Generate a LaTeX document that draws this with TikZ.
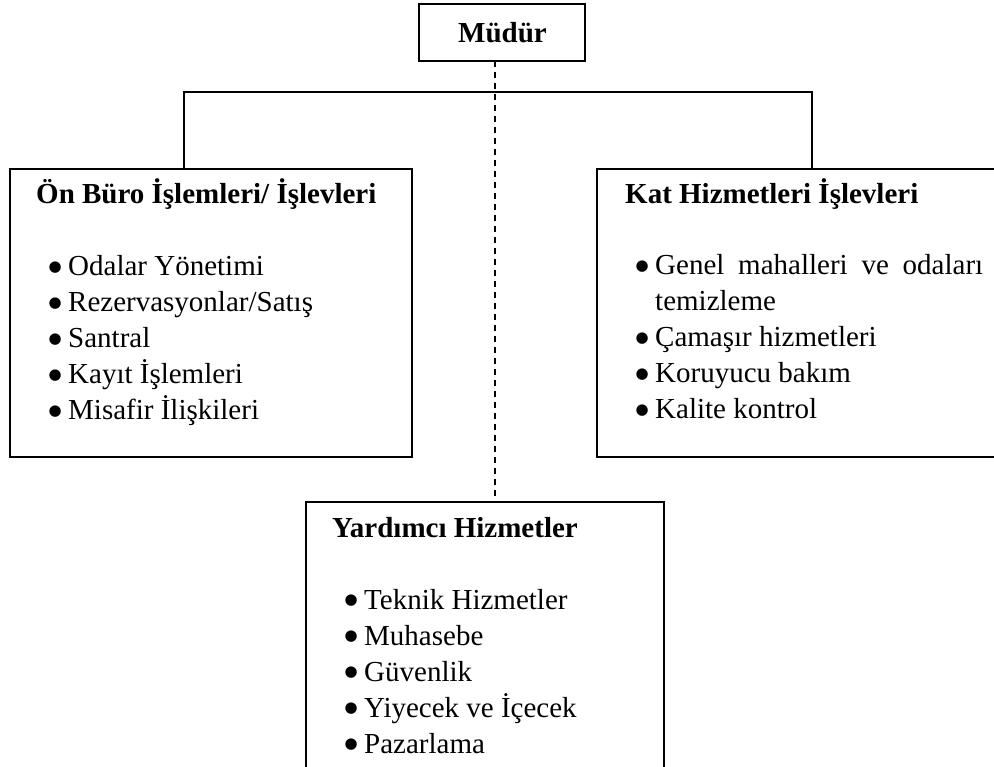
\documentclass[tikz,border=0pt]{standalone}
\usepackage{fontspec}
\setmainfont{Liberation Serif}
\newfontfamily\dotfont{DejaVu Sans}
\usetikzlibrary{shadows}

% round bullet in a fixed slot before the item text
\newcommand{\blt}{\makebox[18pt][l]{\hspace{-1.5pt}\raisebox{4.2pt}{\dotfont\fontsize{15}{18}\selectfont ●}}}

\begin{document}
\begin{tikzpicture}[x=1pt, y=-1pt,
  frame/.style={draw, line width=1.3pt, fill=white, inner sep=0pt, outer sep=0pt,
    anchor=north west,
    drop shadow={shadow xshift=1.4pt, shadow yshift=-1.4pt, fill=black!65, opacity=1}},
  head/.style={anchor=base west, inner sep=0pt, font=\fontsize{29}{36}\selectfont\bfseries},
  entry/.style={anchor=base west, inner sep=0pt, font=\fontsize{29}{36}\selectfont},
  link/.style={line width=1.3pt},
  dotted link/.style={line width=1.3pt, dash pattern=on 6pt off 5pt}]

\fill[white] (0,0) rectangle (994,767);
\useasboundingbox (0,0) rectangle (994,767);

% boxes
\node[frame, minimum width=166pt, minimum height=57pt] (boss) at (419,4) {};
\node[frame, minimum width=402pt, minimum height=288pt] (front) at (10,169) {};
\node[frame, minimum width=420pt, minimum height=288pt] (house) at (597,169) {};
\node[frame, minimum width=358pt, minimum height=280pt] (aux) at (306,502) {};

% connectors
\coordinate (lt) at (184,92);
\coordinate (rt) at (812,92);
\coordinate (dx) at (495,0);
\draw[link] (front.north -| lt) -- (lt) -- (rt) -- (house.north -| rt);
\draw[dotted link] (boss.south -| dx) -- (aux.north -| dx);

% top
\node[head] (bosst) at (458,43) {Müdür};

% front office
\node[head] (fronth) at (36,204) {Ön Büro İşlemleri/ İşlevleri};
\node[entry] (f1) at (50,276) {\blt Odalar Yönetimi};
\node[entry] (f2) at (50,312) {\blt Rezervasyonlar/Satış};
\node[entry] (f3) at (50,348) {\blt Santral};
\node[entry] (f4) at (50,384) {\blt Kayıt İşlemleri};
\node[entry] (f5) at (50,420) {\blt Misafir İlişkileri};

% housekeeping
\node[head] (househ) at (625,204) {Kat Hizmetleri İşlevleri};
\node[entry] (h1) at (637,275) {\blt\makebox[328pt][s]{Genel\hfill mahalleri\hfill ve\hfill odaları}};
\node[entry] (h1b) at (655,311) {temizleme};
\node[entry] (h2) at (637,347) {\blt Çamaşır hizmetleri};
\node[entry] (h3) at (637,383) {\blt Koruyucu bakım};
\node[entry] (h4) at (637,419) {\blt Kalite kontrol};

% support services
\node[head] (auxh) at (332,537) {Yardımcı Hizmetler};
\node[entry] (a1) at (346,609) {\blt Teknik Hizmetler};
\node[entry] (a2) at (346,645) {\blt Muhasebe};
\node[entry] (a3) at (346,681) {\blt Güvenlik};
\node[entry] (a4) at (346,717) {\blt Yiyecek ve İçecek};
\node[entry] (a5) at (346,753) {\blt Pazarlama};
\end{tikzpicture}
\end{document}
